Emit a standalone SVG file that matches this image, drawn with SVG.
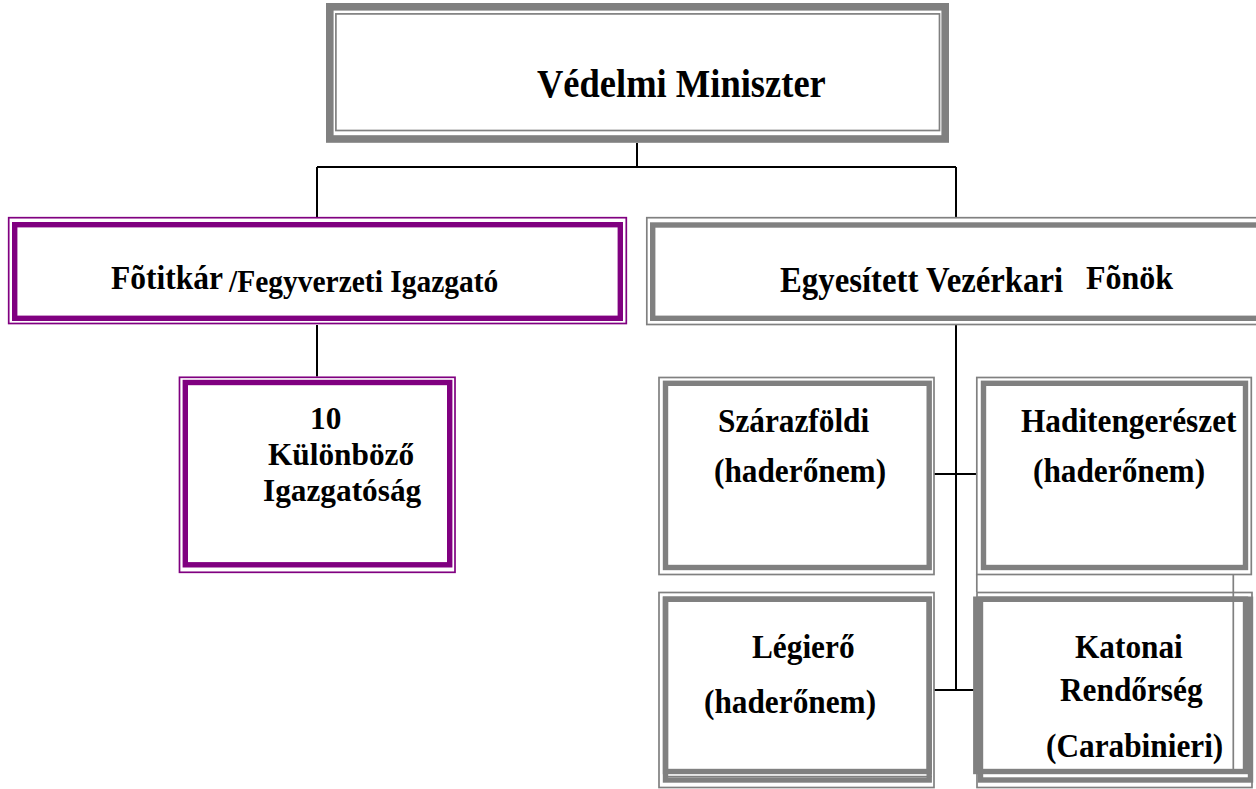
<svg xmlns="http://www.w3.org/2000/svg" width="1256" height="789" viewBox="0 0 1256 789">
<style>
.gk{fill:none;stroke:#808080;stroke-width:5.4}
.gK{fill:none;stroke:#808080;stroke-width:7.6}
.gt{fill:none;stroke:#808080;stroke-width:1.7}
.pk{fill:none;stroke:#800080;stroke-width:5.4}
.pt{fill:none;stroke:#800080;stroke-width:1.7}
.c{fill:none;stroke:#000;stroke-width:2}
text{font-family:"Liberation Serif","Times New Roman",serif;font-weight:bold;fill:#000;font-size:31.3px}
</style>
<rect width="1256" height="789" fill="#fff"/>
<g id="connectors">
<path class="c" d="M637,143V167M317,167H956M317,167V217M956,167V217M317,325V376.5M956,325V691M934,474H977M934,690H977"/>
</g>
<g id="n-miniszter">
<rect class="gK" x="329.8" y="6.8" width="615.4" height="132.2"/>
<rect class="gt" x="335.9" y="13.9" width="603.6" height="116.6"/>
<text transform="translate(537 97) scale(1 1.1)" style="font-size:36.5px">Védelmi Miniszter</text>
</g>
<g id="n-fotitkar">
<rect class="pt" x="8.7" y="217.7" width="617.6" height="105.8"/>
<rect class="pk" x="14.7" y="224.7" width="605.6" height="93.6"/>
<text transform="translate(111 289) scale(1 1.07)" style="font-size:31.5px">Fõtitkár</text>
<text transform="translate(229 292) scale(1 1.07)" style="font-size:29.5px">/Fegyverzeti Igazgató</text>
</g>
<g id="n-igazgatosag">
<rect class="pt" x="179.5" y="377.3" width="275.5" height="195"/>
<rect class="pk" x="185.3" y="382.5" width="264.4" height="182.3"/>
<text x="310" y="429">10</text>
<text x="268" y="465">Különböző</text>
<text x="263" y="501">Igazgatóság</text>
</g>
<g id="n-vezerkar">
<rect class="gt" x="646.8" y="217.7" width="620" height="106.8"/>
<rect class="gk" x="652.7" y="225" width="620" height="93.3"/>
<text transform="translate(780 292) scale(1 1.07)" style="font-size:32.8px">Egyesített Vezérkari</text>
<text transform="translate(1086 289) scale(1 1.07)" style="font-size:32px">Fõnök</text>
</g>
<g id="n-szarazfoldi">
<rect class="gt" x="659" y="377.5" width="275" height="197"/>
<rect class="gk" x="665.5" y="383.3" width="263.7" height="184.2"/>
<text transform="translate(718 432) scale(1 1.07)">Szárazföldi</text>
<text transform="translate(714 482) scale(1 1.07)">(haderőnem)</text>
</g>
<g id="n-haditengereszet">
<rect class="gt" x="976.8" y="377.5" width="274.5" height="197"/>
<rect class="gk" x="983.5" y="383.3" width="262" height="184.2"/>
<path class="gt" d="M976.8,574V592M1233.3,574V772"/>
<text transform="translate(1021 432) scale(1 1.07)">Haditengerészet</text>
<text transform="translate(1033 482) scale(1 1.07)">(haderőnem)</text>
</g>
<g id="n-legiero">
<rect class="gt" x="659" y="592.5" width="275" height="195"/>
<rect class="gk" x="665.5" y="599.2" width="263.7" height="180.8"/>
<rect class="gk" x="665.5" y="599.2" width="263.7" height="172.3"/>
<path class="gt" d="M663,776.5H932"/>
<text transform="translate(752 658) scale(1 1.07)">Légierő</text>
<text transform="translate(704 713) scale(1 1.07)">(haderőnem)</text>
</g>
<g id="n-katonai">
<rect class="gt" x="977" y="592.5" width="275" height="195"/>
<rect class="gk" x="975.8" y="599.2" width="269.7" height="172.3"/>
<rect class="gk" x="980.5" y="599.2" width="270" height="180.8"/>
<text transform="translate(1075 658) scale(1 1.07)">Katonai</text>
<text transform="translate(1060 701) scale(1 1.07)">Rendőrség</text>
<text transform="translate(1046 757) scale(1 1.07)">(Carabinieri)</text>
</g>
</svg>
